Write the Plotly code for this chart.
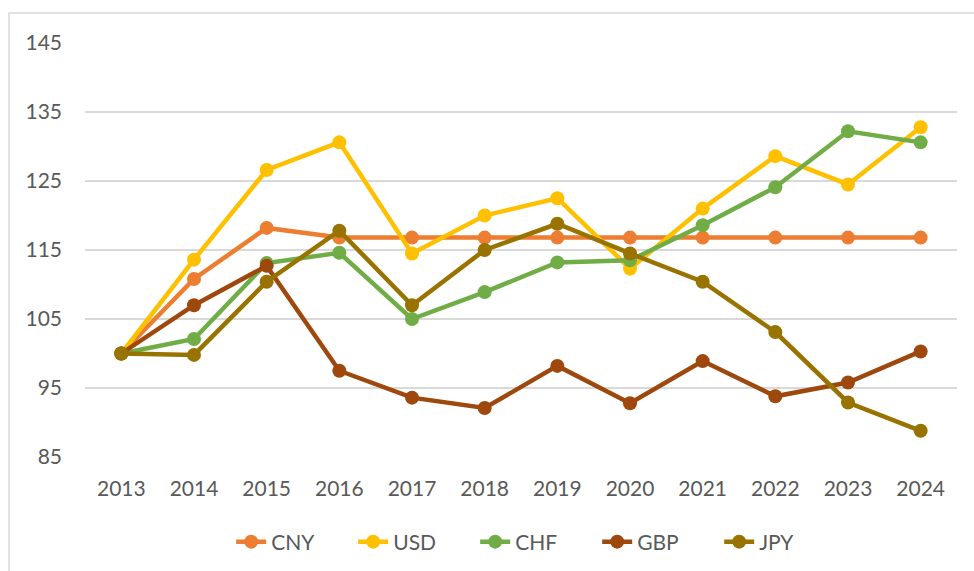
import plotly.graph_objects as go

years = ["2013", "2014", "2015", "2016", "2017", "2018", "2019", "2020", "2021", "2022", "2023", "2024"]
cny = [100, 110.8, 118.2, 116.8, 116.8, 116.8, 116.8, 116.8, 116.8, 116.8, 116.8, 116.8]
usd = [100, 113.6, 126.6, 130.6, 114.5, 120.0, 122.5, 112.3, 121.0, 128.6, 124.5, 132.8]
chf = [100, 102.1, 113.1, 114.6, 105.0, 108.9, 113.2, 113.5, 118.6, 124.1, 132.2, 130.6]
gbp = [100, 107.0, 112.7, 97.5, 93.6, 92.1, 98.2, 92.8, 98.9, 93.8, 95.8, 100.3]
jpy = [100, 99.8, 110.4, 117.8, 107.0, 115.0, 118.8, 114.5, 110.4, 103.1, 92.9, 88.8]
y_ticks = [85, 95, 105, 115, 125, 135, 145]

series = [
    ("CNY", cny, "#ED7D31"),
    ("USD", usd, "#FFC000"),
    ("CHF", chf, "#70AD47"),
    ("GBP", gbp, "#9E480E"),
    ("JPY", jpy, "#997300"),
]

fig = go.Figure()
for name, vals, color in series:
    fig.add_trace(go.Scatter(
        x=years, y=vals, name=name, mode="lines+markers",
        line=dict(color=color, width=4.5),
        marker=dict(color=color, size=14),
    ))

W, H = 974, 571
L, R, T, B = 85, 17, 43, 114
pw, ph = W - L - R, H - T - B

def px_x(p):
    return (p - L) / pw

def px_y(p):
    return (H - B - p) / ph

fig.update_layout(
    width=W, height=H,
    margin=dict(l=L, r=R, t=T, b=B, autoexpand=False),
    paper_bgcolor="white", plot_bgcolor="white",
    font=dict(family="Lato, 'Open Sans', sans-serif", size=21, color="#595959"),
    showlegend=True,
    legend=dict(
        orientation="h", xref="container", yref="container",
        x=0.5505, xanchor="center", y=1 - 542 / H, yanchor="middle",
        entrywidth=77, entrywidthmode="pixels",
        font=dict(size=21, color="#595959"),
        bgcolor="rgba(0,0,0,0)",
    ),
    xaxis=dict(
        type="category", range=[-0.5, 11.5], showgrid=False, zeroline=False,
        showline=False, ticks="", ticklabelstandoff=17, automargin=False,
        tickfont=dict(size=21, color="#595959"),
    ),
    yaxis=dict(
        range=[85, 145], tickvals=y_ticks, showgrid=True, gridcolor="#D9D9D9",
        gridwidth=1.5, zeroline=False, showline=False, ticks="",
        ticklabelstandoff=22, automargin=False,
        tickfont=dict(size=21, color="#595959"),
    ),
    shapes=[dict(
        type="rect", xref="paper", yref="paper",
        x0=px_x(9), x1=px_x(990), y0=px_y(590), y1=px_y(13),
        line=dict(color="#D9D9D9", width=1.5), fillcolor="rgba(0,0,0,0)",
        layer="below",
    )],
)

fig.write_html("out.html", config={"displayModeBar": False},
               post_script="document.body.style.margin='0';")
